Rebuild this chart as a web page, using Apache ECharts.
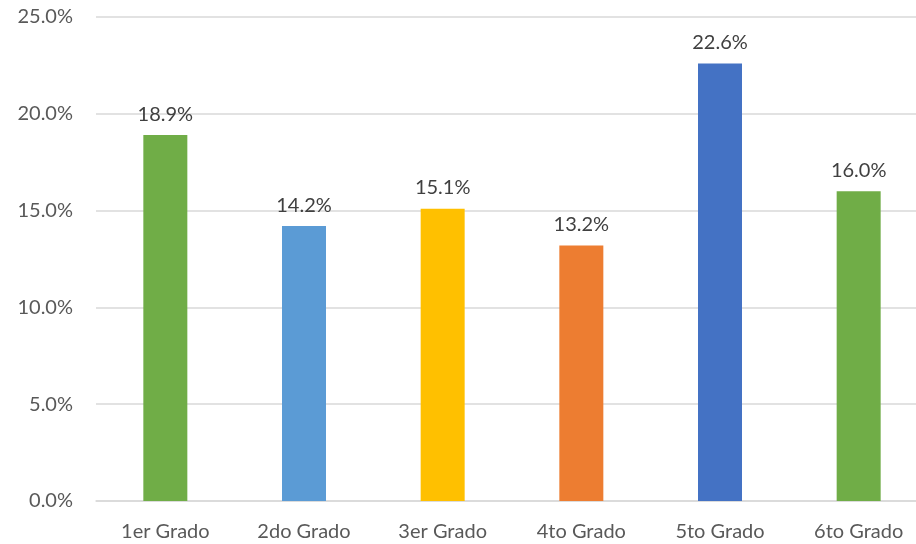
<!DOCTYPE html>
<html>
<head>
<meta charset="utf-8">
<script src="https://cdn.jsdelivr.net/npm/echarts@6/dist/echarts.min.js"></script>
<style>
html,body{margin:0;padding:0;background:#fff;overflow:hidden;width:916px;height:544px;}
#chart{width:928px;height:544px;}
</style>
</head>
<body>
<div id="chart"></div>
<script>
const categories = ['1er Grado','2do Grado','3er Grado','4to Grado','5to Grado','6to Grado'];
const values = [18.9, 14.2, 15.1, 13.2, 22.6, 16.0];
const colors = ['#70AD47','#5B9BD5','#FFC000','#ED7D31','#4472C4','#70AD47'];
const yTicks = [0, 5, 10, 15, 20, 25];

const FONT = 'Lato';
const chart = echarts.init(document.getElementById('chart'));
chart.setOption({
  animation: false,
  grid: { left: 96, right: 0, top: 17, bottom: 43 },
  xAxis: {
    type: 'category',
    data: categories,
    axisTick: { show: false },
    axisLine: { lineStyle: { color: '#D9D9D9', width: 1.5 } },
    axisLabel: { color: '#595959', fontSize: 20, fontFamily: FONT, margin: 21 }
  },
  yAxis: {
    type: 'value',
    min: yTicks[0],
    max: yTicks[yTicks.length - 1],
    interval: 5,
    axisLine: { show: false },
    axisTick: { show: false },
    splitLine: { lineStyle: { color: '#D9D9D9', width: 1.5 } },
    axisLabel: { color: '#595959', fontSize: 20, fontFamily: FONT, margin: 23,
      formatter: v => v.toFixed(1) + '%' }
  },
  series: [{
    type: 'bar',
    barWidth: 44,
    data: values.map((v, i) => ({ value: v, itemStyle: { color: colors[i] } })),
    label: {
      show: true, position: 'top', distance: 11,
      color: '#404040', fontSize: 20, fontFamily: FONT,
      formatter: p => p.value.toFixed(1) + '%'
    }
  }]
});
</script>
</body>
</html>
